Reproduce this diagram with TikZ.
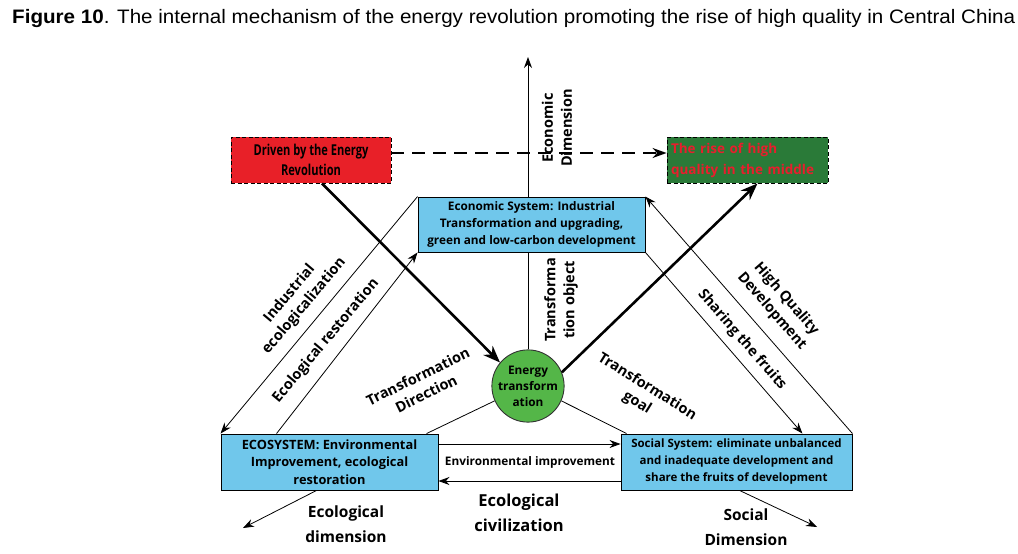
\documentclass[tikz,border=0pt]{standalone}
\usepackage{fontspec}
\setmainfont{Open Sans}
\newfontfamily\condfont[FakeStretch=0.74]{Open Sans}
\newfontfamily\titlefont{Liberation Sans}
\usetikzlibrary{arrows.meta}
\definecolor{redfill}{RGB}{232,32,40}
\definecolor{greenfill}{RGB}{42,122,56}
\definecolor{risered}{RGB}{232,30,45}
\definecolor{boxblue}{RGB}{112,199,235}
\definecolor{circgreen}{RGB}{84,182,72}
\begin{document}
\begin{tikzpicture}[x=1pt,y=-1pt,
  bluebox/.style={draw=black,line width=0.9pt,fill=boxblue,align=center,inner sep=1pt},
  dashbox/.style={draw=black,line width=0.9pt,dash pattern=on 4pt off 2.5pt,inner sep=1pt},
  thinarrow/.style={line width=0.8pt,-{Stealth[length=11pt,width=8pt]}},
  thinline/.style={line width=0.8pt},
  thickarrow/.style={line width=2.6pt,-{Stealth[length=17pt,width=13pt]}},
  lbl/.style={font=\fontsize{14.5}{19}\selectfont\bfseries,align=center,inner sep=0pt},
]
\useasboundingbox (0,0) rectangle (1018,554);
% title
\node[anchor=west,inner sep=0pt] (title) at (12,19) {\resizebox{1003pt}{\height}{\titlefont\fontsize{19.5}{22}\selectfont\textbf{Figure 10}. The internal mechanism of the energy revolution promoting the rise of high quality in Central China}};

% nodes
\node[dashbox,fill=redfill,minimum width=160pt,minimum height=46pt,align=center,
      font=\condfont\fontsize{15}{20}\selectfont\bfseries] (drv) at (311,160) {Driven by the Energy\\Revolution};
\node[dashbox,fill=greenfill,minimum width=161pt,minimum height=46pt,text width=153pt,align=left,
      text=risered,font=\fontsize{13.5}{21}\selectfont\bfseries] (rise) at (747.5,160) {The rise of high\\quality in the middle};
\node[bluebox,minimum width=227pt,minimum height=55pt,font=\fontsize{11.8}{17}\selectfont\bfseries] (econ) at (531.5,224.5)
  {Economic System: Industrial\\Transformation and upgrading,\\green and low-carbon development};
\node[bluebox,minimum width=217pt,minimum height=56pt,font=\fontsize{12.8}{17.5}\selectfont\bfseries] (eco) at (329.5,462)
  {ECOSYSTEM: Environmental\\Improvement, ecological\\restoration};
\node[bluebox,minimum width=231pt,minimum height=56pt,font=\fontsize{11.5}{17}\selectfont\bfseries] (soc) at (736.5,462)
  {Social System: eliminate unbalanced\\and inadequate development and\\share the fruits of development};
\node[circle,draw=black!80,line width=0.9pt,fill=circgreen,minimum size=72pt,inner sep=0pt,align=center,
      font=\fontsize{11.8}{16}\selectfont\bfseries] (ener) at (528,386) {Energy\\transform\\ation};

% coordinates for free ends
\coordinate (top) at (528,57);
\coordinate (ecodim) at (243,528);
\coordinate (socdim) at (817,527);

% vertical economic axis
\draw[thinline] (ener.north) -- (ener.north |- econ.south);
\draw[thinarrow] (ener.north |- econ.north) -- (top);

% dashed arrow
\draw[line width=1.5pt,dash pattern=on 13pt off 8pt,-{Stealth[length=14pt,width=10pt]}]
  ([yshift=7pt]drv.east) -- ([yshift=7pt]rise.west);

% thick arrows
\draw[thickarrow] ([xshift=11pt]drv.south) -- (ener.140);
\draw[thickarrow] (ener.22) -- ([xshift=10pt]rise.south);

% triangle left side
\draw[thinarrow] (econ.north west) -- (eco.north west);
\draw[thinarrow] ([xshift=56pt]eco.north west) -- (econ.south west);
\draw[thinline] ([xshift=206pt]eco.north west) -- (ener.204);
% right side
\draw[thinline] (ener.-24) -- ([xshift=6pt]soc.north west);
\draw[thinarrow] (econ.south east) -- ([xshift=-50pt]soc.north east);
\draw[thinarrow] (soc.north east) -- (econ.north east);
% bottom
\draw[thinarrow] ([yshift=18pt]eco.east) -- ([yshift=18pt]soc.west);
\draw[thinarrow] ([yshift=-19pt]soc.west) -- ([yshift=-19pt]eco.east);
% dimension arrows
\draw[thinarrow] ([xshift=96pt]eco.south west) -- (ecodim);
\draw[thinarrow] ([xshift=119pt]soc.south west) -- (socdim);

% labels
\node[lbl,rotate=90] (l-ecd) at (557,128) {Economic\\Dimension};
\node[lbl,rotate=90] (l-tob) at (561,300) {Transforma\\tion object};
\node[lbl,rotate=50] (l-ind) at (297,300) {Industrial\\ecologicalization};
\node[lbl,rotate=50] (l-res) at (326,341) {Ecological restoration};
\node[lbl,rotate=26] (l-tdir) at (422,385) {Transformation\\Direction};
\node[lbl,rotate=-32] (l-tgoal) at (642,395) {Transformation\\goal};
\node[lbl,rotate=-49] (l-hq) at (779,305) {High Quality\\Development};
\node[lbl,rotate=-49] (l-share) at (742,340) {Sharing the fruits};
\node[inner sep=0pt,font=\fontsize{11.8}{14}\selectfont\bfseries] (l-env) at (530,462) {Environmental improvement};
\node[lbl,font=\fontsize{16.5}{25}\selectfont\bfseries] (l-civ) at (519,513) {Ecological\\civilization};
\node[lbl,font=\fontsize{15.5}{25}\selectfont\bfseries] (l-ecod) at (346,524) {Ecological\\dimension};
\node[lbl,font=\fontsize{15.5}{25}\selectfont\bfseries] (l-socd) at (746,527) {Social\\Dimension};
\end{tikzpicture}
\end{document}
